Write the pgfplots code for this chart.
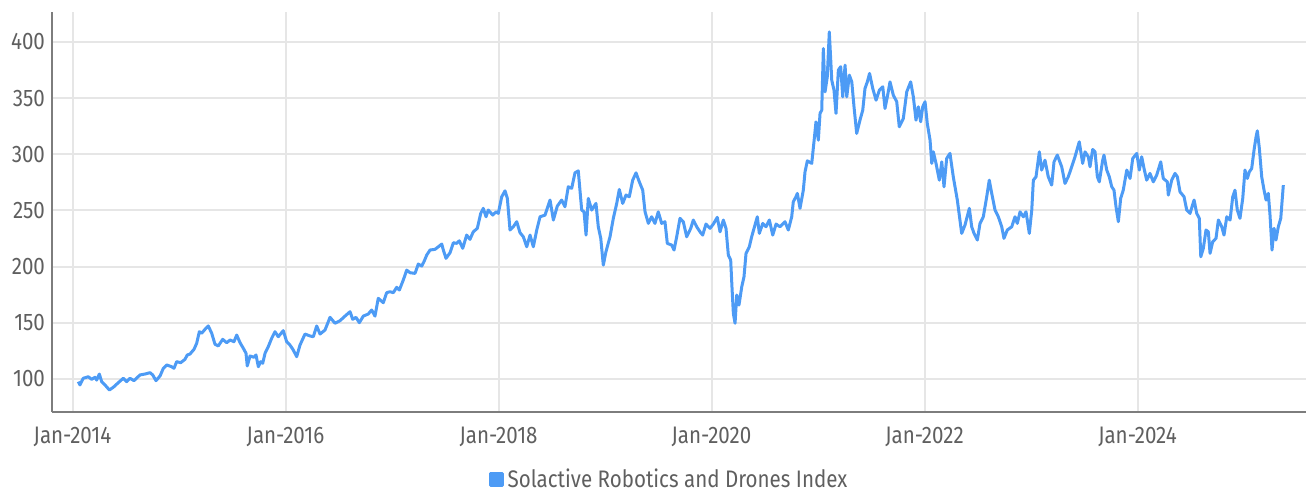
\documentclass[border=0pt]{standalone}
\usepackage{fontspec}
\setmainfont{Fira Sans}[FakeStretch=0.86]
\usepackage{pgfplots}
\usepackage{pgfplotstable}
\pgfplotsset{compat=1.18}
\usetikzlibrary{calc}
\definecolor{lineblue}{RGB}{77,155,245}
\definecolor{gridgray}{RGB}{230,230,230}
\definecolor{axisgray}{RGB}{125,125,125}
\definecolor{textgray}{RGB}{95,95,95}
\pgfplotstableread{
x y
0.054 97.6
0.070 94.7
0.101 100.6
0.148 102.0
0.180 99.7
0.211 101.5
0.227 99.0
0.252 104.4
0.274 97.6
0.305 94.7
0.346 90.2
0.383 92.6
0.430 96.7
0.477 100.6
0.509 97.6
0.540 100.6
0.577 98.5
0.634 103.6
0.681 104.4
0.728 105.6
0.753 103.6
0.784 98.5
0.822 102.7
0.853 109.5
0.885 112.5
0.931 110.9
0.953 109.5
0.978 115.4
1.016 114.5
1.056 117.5
1.078 121.4
1.103 122.2
1.141 126.4
1.166 131.8
1.191 142.1
1.213 140.7
1.244 144.2
1.275 147.2
1.307 140.7
1.338 130.9
1.369 129.4
1.410 135.3
1.448 132.3
1.479 134.7
1.516 133.2
1.542 139.1
1.573 132.3
1.604 127.3
1.629 122.9
1.641 111.6
1.667 120.5
1.704 119.3
1.723 121.4
1.745 110.9
1.767 115.4
1.786 114.0
1.808 122.9
1.838 128.7
1.870 136.2
1.901 142.1
1.932 137.6
1.979 143.0
2.011 133.2
2.042 130.2
2.073 125.8
2.105 119.8
2.136 130.2
2.183 140.0
2.230 138.3
2.261 137.6
2.293 147.2
2.324 140.0
2.371 143.6
2.418 154.9
2.465 149.6
2.512 151.9
2.559 156.0
2.606 159.9
2.631 153.1
2.662 154.9
2.693 150.1
2.731 156.0
2.777 157.8
2.809 161.4
2.840 156.0
2.871 171.8
2.918 167.9
2.950 176.8
2.981 177.7
3.012 176.8
3.044 181.6
3.069 179.2
3.106 188.1
3.138 196.9
3.169 194.6
3.216 194.0
3.247 202.3
3.279 200.5
3.300 204.4
3.326 210.3
3.357 214.8
3.404 215.4
3.435 217.7
3.467 220.1
3.482 214.8
3.507 207.4
3.545 212.4
3.576 221.3
3.607 220.7
3.632 223.0
3.664 216.3
3.701 228.1
3.732 224.3
3.763 231.0
3.801 234.1
3.833 247.4
3.857 251.9
3.883 244.4
3.904 250.4
3.946 245.9
3.977 248.8
3.998 247.4
4.030 262.2
4.061 267.5
4.083 260.8
4.108 232.6
4.139 235.5
4.171 240.0
4.202 230.2
4.233 226.6
4.265 217.7
4.296 228.1
4.327 217.7
4.359 232.6
4.390 244.4
4.437 245.9
4.458 251.9
4.484 259.3
4.515 241.5
4.552 253.9
4.593 259.3
4.624 253.3
4.655 271.1
4.687 269.7
4.718 283.5
4.749 285.3
4.781 250.4
4.803 248.8
4.822 228.1
4.843 260.8
4.875 250.4
4.915 256.3
4.937 235.5
4.960 225.2
4.984 201.4
5.009 213.3
5.047 226.6
5.078 243.0
5.110 256.3
5.134 268.7
5.166 256.3
5.197 263.7
5.228 262.2
5.260 277.0
5.291 283.5
5.322 275.5
5.354 268.1
5.376 248.8
5.407 238.5
5.438 244.4
5.469 238.5
5.500 248.8
5.532 238.5
5.563 240.0
5.585 220.7
5.626 219.2
5.648 214.8
5.673 226.6
5.704 243.0
5.735 240.0
5.767 226.6
5.805 234.1
5.829 241.5
5.861 235.5
5.892 231.0
5.917 228.1
5.948 237.9
5.986 234.1
6.017 237.9
6.054 243.9
6.080 231.0
6.111 241.5
6.136 234.1
6.158 210.3
6.180 205.9
6.192 182.1
6.205 158.4
6.221 149.6
6.237 174.7
6.258 165.8
6.284 182.1
6.305 191.0
6.324 211.8
6.355 217.7
6.377 226.6
6.408 237.0
6.430 244.4
6.449 229.6
6.481 238.5
6.512 235.5
6.543 241.5
6.575 228.1
6.606 237.9
6.643 235.5
6.690 240.0
6.721 232.6
6.753 244.4
6.768 257.8
6.793 262.2
6.806 265.2
6.831 251.9
6.862 268.1
6.878 284.4
6.900 294.2
6.941 291.9
6.962 311.1
6.981 328.9
7.003 312.6
7.019 336.4
7.035 339.3
7.050 394.2
7.066 355.6
7.087 369.0
7.106 409.0
7.129 366.0
7.150 357.1
7.169 336.4
7.191 375.0
7.213 378.0
7.232 351.2
7.254 379.4
7.270 351.2
7.294 370.5
7.317 364.5
7.338 342.3
7.363 318.6
7.394 330.4
7.420 339.3
7.441 358.6
7.463 364.5
7.484 372.0
7.514 358.6
7.545 348.2
7.576 357.1
7.608 360.1
7.629 340.8
7.651 351.2
7.676 364.5
7.707 352.7
7.739 346.8
7.763 324.5
7.801 331.9
7.833 355.6
7.870 364.5
7.895 351.2
7.920 330.4
7.942 342.3
7.964 329.0
7.983 342.3
8.005 346.8
8.026 327.4
8.052 312.6
8.068 291.9
8.083 302.2
8.108 291.9
8.139 277.0
8.162 293.3
8.183 271.1
8.208 296.3
8.239 300.8
8.270 280.0
8.308 259.3
8.349 229.6
8.380 237.0
8.421 251.9
8.443 235.5
8.465 229.6
8.496 223.7
8.521 238.5
8.552 244.4
8.584 262.2
8.608 277.0
8.631 265.2
8.662 250.4
8.693 244.4
8.725 235.5
8.746 225.2
8.777 232.6
8.819 235.5
8.850 244.4
8.871 238.5
8.897 248.8
8.928 244.4
8.953 248.8
8.984 229.6
9.007 250.4
9.022 277.0
9.047 280.0
9.078 302.2
9.100 286.0
9.131 294.8
9.162 280.0
9.194 272.6
9.216 293.3
9.247 299.3
9.288 288.9
9.319 274.1
9.350 280.0
9.382 288.9
9.413 297.8
9.453 311.1
9.485 291.9
9.507 302.2
9.538 297.8
9.554 288.9
9.579 304.3
9.601 302.2
9.623 280.0
9.641 275.5
9.673 294.8
9.685 299.3
9.711 286.0
9.735 280.0
9.758 271.1
9.779 268.1
9.798 253.3
9.820 240.0
9.842 260.8
9.866 268.1
9.899 286.0
9.930 278.5
9.955 296.3
9.993 300.8
10.017 286.0
10.039 297.8
10.061 287.4
10.086 277.0
10.117 283.0
10.148 275.5
10.180 281.5
10.218 293.3
10.242 278.5
10.280 275.5
10.289 263.7
10.321 277.0
10.352 283.0
10.374 280.0
10.399 266.6
10.437 262.2
10.462 250.4
10.493 247.4
10.531 259.3
10.556 247.4
10.580 243.0
10.594 208.8
10.618 216.3
10.643 232.6
10.665 231.0
10.681 211.8
10.706 222.2
10.737 225.2
10.759 241.5
10.791 235.5
10.812 228.1
10.838 244.4
10.869 241.5
10.894 262.2
10.915 268.1
10.937 250.4
10.962 243.0
10.988 260.8
11.009 286.0
11.031 278.5
11.050 284.4
11.072 287.4
11.094 303.7
11.113 315.6
11.125 320.9
11.144 305.2
11.166 280.0
11.188 268.1
11.207 259.3
11.228 265.2
11.244 245.9
11.263 214.8
11.282 234.1
11.300 223.7
11.322 235.5
11.345 243.0
11.369 272.6
}\indexdata
\begin{document}
\begin{tikzpicture}
\begin{axis}[name=ax,
  scale only axis, width=627bp, height=200bp,
  xmin=-0.1925, xmax=11.582, ymin=70.6, ymax=426.7,
  axis x line=bottom, axis y line=left,
  axis line style={-, draw=axisgray, line width=1bp},
  xtick={0,2,4,6,8,10},
  xticklabels={Jan-2014,Jan-2016,Jan-2018,Jan-2020,Jan-2022,Jan-2024},
  ytick={100,150,200,250,300,350,400},
  major tick length=0pt, tick style={draw=none},
  grid=major, major grid style={draw=gridgray, line width=1bp},
  /pgf/number format/assume math mode=true,
  ticklabel style={font=\fontsize{12}{14}\selectfont, text=textgray},
  xticklabel style={yshift=-4bp},
  legend style={draw=none, fill=none, at={(0.4928,-0.168)}, anchor=center,
    font=\fontsize{12}{14}\selectfont, text=textgray, inner sep=0pt},
  legend image code/.code={\fill[lineblue] (0bp,-3bp) rectangle (6bp,3bp);},
]
\addplot[lineblue, line width=1.5bp, line join=round, mark=none] table[x=x,y=y] {\indexdata};
\addlegendentry{Solactive Robotics and Drones Index}
\end{axis}
\pgfresetboundingbox
\path ($(ax.south west)+(-26bp,-40.5bp)$) rectangle ($(ax.north east)+(0bp,6bp)$);
\end{tikzpicture}
\end{document}
